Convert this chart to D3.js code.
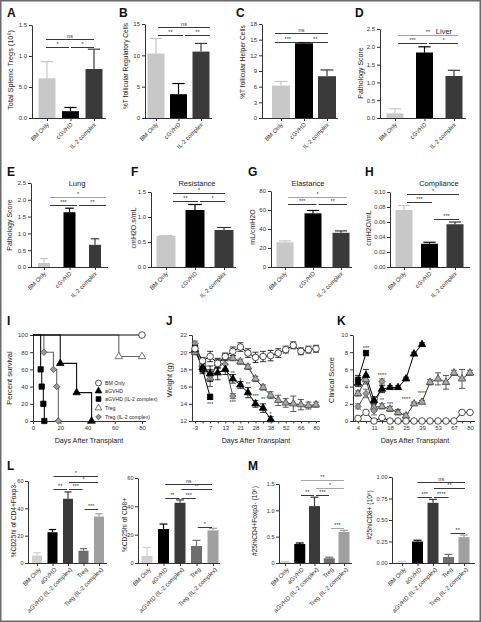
<!DOCTYPE html>
<html><head><meta charset="utf-8">
<script src="https://cdn.jsdelivr.net/npm/d3@7"></script>
<style>body{margin:0;background:#fff}svg{display:block}</style>
</head><body>
<script>
// ================= DATA =================
const cats3 = ["BM Only", "cGVHD", "IL-2 complex"];
const cats5 = ["BM Only", "aGVHD", "aGVHD (IL-2 complex)", "Treg", "Treg (IL-2 complex)"];

// Row 1-2 bar panels (mean, upper SEM)
const tregVals = [0.64, 0.11, 0.79],    tregErr = [0.27, 0.06, 0.32];
const tfrVals = [10.3, 3.8, 10.6],      tfrErr = [2.4, 1.7, 1.3];
const tfhVals = [6.2, 14.3, 8.0],       tfhErr = [0.8, 0.15, 1.2];
const liverVals = [0.13, 1.84, 1.18],   liverErr = [0.13, 0.16, 0.16];
const lungVals = [0.12, 1.63, 0.66],    lungErr = [0.13, 0.12, 0.18];
const resistVals = [0.62, 1.14, 0.74],  resistErr = [0.01, 0.11, 0.05];
const elastVals = [26, 56.5, 36],       elastErr = [1.5, 3, 2];
const complVals = [0.076, 0.031, 0.057], complErr = [0.006, 0.002, 0.003];

// Row 4 bar panels
const cd4PctVals = [5.5, 22.5, 47, 9, 34],         cd4PctErr = [2, 2, 5, 1.5, 2];
const cd8PctVals = [5, 24, 42.5, 12, 23],          cd8PctErr = [6, 3.5, 2, 4, 1.5];
const cd4NumVals = [0.02, 0.36, 1.08, 0.09, 0.59], cd4NumErr = [0.01, 0.02, 0.17, 0.02, 0.03];
const cd8NumVals = [0.005, 0.25, 0.70, 0.07, 0.30], cd8NumErr = [0.015, 0.015, 0.04, 0.03, 0.025];

// Tick values / labels
const ticksA = [0, 0.5, 1.0, 1.5],  tickLabA = ["0.0", "5.0", "1.0", "1.5"];
const ticksB = [0, 5, 10, 15],      tickLabB = ["0", "5", "10", "15"];
const ticksC = [0, 3, 6, 9, 12, 15, 18], tickLabC = ["0", "3", "6", "9", "12", "15", "18"];
const ticksPath = [0, 0.5, 1.0, 1.5, 2.0, 2.5], tickLabPath = ["0.0", "0.5", "1.0", "1.5", "2.0", "2.5"];
const ticksF = [0, 0.5, 1.0, 1.5],  tickLabF = ["0.0", "0.5", "1.0", "1.5"];
const ticksG = [0, 20, 40, 60, 80], tickLabG = ["0", "20", "40", "60", "80"];
const ticksH = [0, 0.02, 0.04, 0.06, 0.08, 0.10], tickLabH = ["0.00", "0.02", "0.04", "0.06", "0.08", "0.10"];
const ticksL = [0, 20, 40, 60],     tickLabL = ["0", "20", "40", "60"];
const ticksM1 = [0, 0.5, 1.0, 1.5], tickLabM1 = ["0", "0.5", "1.0", "1.5"];
const ticksM2 = [0, 0.25, 0.5, 0.75, 1.0], tickLabM2 = ["0.00", "0.25", "0.50", "0.75", "1.00"];

// Significance comparisons [from, to, label]
const sigA = [[0, 2, "ns"], [0, 1, "*"], [1, 2, "*"]];
const sigB = [[0, 2, "ns"], [0, 1, "**"], [1, 2, "**"]];
const sigC = [[0, 2, "ns"], [0, 1, "***"], [1, 2, "**"]];
const sigD = [[0, 2, "**"], [0, 1, "***"], [1, 2, "*"]];
const sigE = [[0, 2, "*"], [0, 1, "***"], [1, 2, "**"]];
const sigF = [[0, 2, "*"], [0, 1, "**"], [1, 2, "*"]];
const sigG = [[0, 2, "*"], [0, 1, "***"], [1, 2, "**"]];
const sigH = [[0, 2, "*"], [0, 1, "***"], [1, 2, "***"]];
const sigL1 = [[1, 4, "*"], [2, 4, "*"], [1, 2, "**"], [2, 3, "***"], [3, 4, "***"]];
const sigL2 = [[1, 4, "ns"], [2, 4, "**"], [1, 2, "**"], [2, 3, "***"], [3, 4, "*"]];
const sigM1 = [[1, 4, "**"], [2, 4, "*"], [1, 2, "**"], [2, 3, "***"], [3, 4, "***"]];
const sigM2 = [[1, 4, "ns"], [2, 4, "**"], [1, 2, "***"], [2, 3, "****"], [3, 4, "**"]];

// Panel I: survival (step points)
const survXTicks = [0, 20, 40, 60, 80];
const survYTicks = [0, 20, 40, 60, 80, 100];
const survDaysBM = [0, 80],                       survPctBM = [100, 100];
const survDaysAG = [0, 20, 32, 43],               survPctAG = [100, 67, 33, 0];
const survDaysAGIL = [0, 5.6, 6.4, 7.6, 8.3],     survPctAGIL = [100, 60, 40, 20, 0];
const survDaysTreg = [0, 63, 80],                 survPctTreg = [100, 75, 75];
const survDaysTregIL = [0, 8, 15, 17.4, 18.6],    survPctTregIL = [100, 80, 60, 40, 0];

// Panel J: weight (g), points at successive measurement days
const weightDayLabels = ["-3", "7", "13", "21", "28", "38", "52", "66", "80"];
const weightYTicks = [12, 14, 16, 18, 20, 22];
const wBM = [20.4, 19.0, 19.5, 18.7, 19.5, 20.1, 20.6, 19.9, 19.4, 19.5, 19.6, 19.9, 20.3, 20.8, 20.1, 20.3, 20.4];
const wBMErr = [0.3, 0.4, 0.6, 0.5, 0.4, 0.5, 0.5, 0.5, 0.6, 0.6, 0.6, 0.5, 0.4, 0.4, 0.4, 0.4, 0.4];
const wAG = [20.3, 18.2, 17.5, 17.6, 18.0, 16.9, 16.2, 15.3, 14.0, 13.5, 12.2];
const wAGErr = [0.3, 0.5, 0.9, 0.8, 0.6, 0.5, 0.4, 0.6, 0.4, 0.5, 0.3];
const wAGIL = [20.5, 18.0, 14.8];
const wAGILErr = [0.3, 0.5, 0.3];
const wTreg = [20.0, 18.6, 17.0, 18.7, 19.4, 19.3, 18.9, 18.3, 16.9, 15.9, 15.0, 14.4, 14.1, 14.0, 13.9, 13.8, 13.9];
const wTregErr = [0.3, 0.5, 1.0, 0.6, 0.4, 0.3, 0.3, 0.3, 0.3, 0.3, 0.4, 0.6, 0.5, 0.9, 0.6, 0.4, 0.3];
const wTregIL = [21.0, 18.8, 17.3, 18.7, 18.6, 14.9];
const wTregILErr = [0.3, 0.5, 0.6, 0.5, 0.5, 0.3];
const weightStars = [[2, 14.1, "***"], [5, 17.7, "**"], [5, 14.3, "***"], [6, 16.8, "*"], [7, 16.4, "**"], [8, 15.0, "***"], [9, 14.6, "**"], [10, 12.9, "*"]];

// Panel K: clinical score
const scoreDayLabels = ["4", "11", "18", "25", "39", "53", "67", "80"];
const scoreYTicks = [0, 2, 4, 6, 8, 10];
const csBM = [0.3, 1.0, 0, 0.4, 0, 0, 0, 0, 0, 0, 0, 0, 0, 1.0, 1.0];
const csBMErr = [0, 0, 0, 0, 0, 0, 0, 0, 0, 0, 0, 0, 0, 0, 0];
const csAG = [4.4, 5.3, 2.4, 3.7, 3.9, 3.9, 4.9, 7.8, 8.9];
const csAGErr = [0.4, 0.7, 0.4, 0.4, 0.2, 0.2, 0.2, 0.2, 0.2];
const csAGIL = [4.8, 7.9];
const csAGILErr = [0.5, 0.3];
const csTreg = [3.2, 4.8, 1.6, 1.7, 1.4, 1.0, 0.6, 2.0, 2.2, 4.5, 4.9, 4.5, 5.6, 4.9, 5.6];
const csTregErr = [0.3, 0.5, 0.4, 0.3, 0.3, 0.3, 0.3, 0.2, 0.2, 0.3, 0.7, 0.8, 0.3, 1.1, 0.3];
const csTregIL = [1.7, 3.2, 1.2, 4.6];
const csTregILErr = [0.3, 0.5, 0.5, 0.3];
const scoreStars = [[1, 8.6, "***"], [3, 5.4, "****"], [3, 2.5, "**"], [4, 2.1, "***"], [5, 1.3, "**"], [6, 2.7, "****"], [8, 3.4, "****"]];

// ================= DRAWING =================
const FONT = "'Liberation Sans', Arial, Helvetica, sans-serif";
const INK = "#222";
const svg = d3.select("body").append("svg").attr("width", 481).attr("height", 622).attr("font-family", FONT);
svg.append("rect").attr("width", 481).attr("height", 622).attr("fill", "#fff");
svg.append("rect").attr("x", 0.75).attr("y", 0.75).attr("width", 479.5).attr("height", 620.5)
  .attr("fill", "none").attr("stroke", "#6a6a6a").attr("stroke-width", 1.5);

const col3 = ["#c8c8c8", "#000000", "#3a3a3a"];
const col5 = ["#d0d0d0", "#000000", "#3a3a3a", "#6e6e6e", "#a0a0a0"];

function styleAxis(g, fs) {
  g.attr("font-size", fs).attr("font-family", FONT);
  g.selectAll("path.domain").attr("stroke", "#333").attr("stroke-width", 1);
  g.selectAll(".tick line").attr("stroke", "#333");
  g.selectAll(".tick text").attr("fill", "#333");
}

function ylab(g, x, y, text, fs) {
  g.append("text").attr("transform", `translate(${x},${y}) rotate(-90)`)
    .attr("text-anchor", "middle").attr("font-size", fs || 7).attr("fill", INK).text(text);
}

function barPanel(L, cats, vals, errs, colors, ticks, tickLabels, sigs) {
  const g = svg.append("g");
  const y = d3.scaleLinear().domain([0, L.max]).range([L.base, L.top]);
  const x = d3.scalePoint().domain(cats).range(L.bars);
  const sx = d3.scalePoint().domain(cats).range(L.sig);
  const rows = cats.map((c, i) => ({ c, v: vals[i], e: errs[i], col: colors[i] }));
  const eb = g.selectAll("g.eb").data(rows).join("g");
  eb.append("line").attr("x1", d => x(d.c)).attr("x2", d => x(d.c))
    .attr("y1", d => y(d.v)).attr("y2", d => y(d.v + d.e)).attr("stroke", d => d.col).attr("stroke-width", 1.2);
  eb.append("line").attr("x1", d => x(d.c) - L.bw * 0.36).attr("x2", d => x(d.c) + L.bw * 0.36)
    .attr("y1", d => y(d.v + d.e)).attr("y2", d => y(d.v + d.e)).attr("stroke", d => d.col).attr("stroke-width", 1.2);
  g.selectAll("rect.bar").data(rows).join("rect")
    .attr("x", d => x(d.c) - L.bw / 2).attr("width", L.bw)
    .attr("y", d => y(d.v)).attr("height", d => L.base - y(d.v)).attr("fill", d => d.col);
  const gy = g.append("g").attr("transform", `translate(${L.ax},0)`)
    .call(d3.axisLeft(y).tickValues(ticks).tickFormat((t, i) => tickLabels[i]).tickSize(3).tickSizeOuter(0).tickPadding(L.tp || 2));
  styleAxis(gy, L.tfs || 6);
  const gx = g.append("g").attr("transform", `translate(0,${L.base})`)
    .call(d3.axisBottom(x).tickSize(3).tickSizeOuter(0));
  gx.select(".domain").attr("d", `M${L.ax},0.5H${L.xEnd}`);
  styleAxis(gx, 6);
  const lab = L.lab || [2, 7];
  gx.selectAll(".tick text").attr("y", null).attr("dy", null).attr("text-anchor", "end")
    .attr("transform", `translate(${lab[0]},${lab[1]}) rotate(-45)`);
  sigs.forEach((s, k) => {
    const ly = L.sigY[k];
    const col = (L.gray || []).includes(k) ? "#9a9a9a" : "#222";
    const x1 = sx(cats[s[0]]) + 1, x2 = sx(cats[s[1]]) - 1;
    g.append("line").attr("x1", x1).attr("x2", x2).attr("y1", ly + 0.5).attr("y2", ly + 0.5)
      .attr("stroke", col).attr("stroke-width", 0.9);
    g.append("text").attr("x", (x1 + x2) / 2).attr("y", ly - 1).attr("text-anchor", "middle")
      .attr("font-size", 5.5).attr("fill", "#333").text(s[2]);
  });
  if (L.title) g.append("text").attr("x", L.title[1]).attr("y", L.title[2]).attr("text-anchor", "middle")
    .attr("font-size", 7.5).attr("fill", INK).text(L.title[0]);
  ylab(g, L.ylab[1], L.ylab[2], L.ylab[0], L.ylab[3]);
}

// ---- Row 1 ----
barPanel({ ax: 32, base: 118, top: 25, max: 1.5, bars: [47, 94], sig: [45, 95], bw: 17, xEnd: 106,
  sigY: [39, 47, 47], ylab: ["Total Splenic Tregs (10⁶)", 13, 70, 7.3] },
  cats3, tregVals, tregErr, col3, ticksA, tickLabA, sigA);
barPanel({ ax: 145, base: 118, top: 24, max: 15, bars: [156, 201], sig: [157, 211], bw: 17, xEnd: 212,
  sigY: [27, 35, 35], ylab: ["%T follicular Regulatory Cells", 128, 66, 6.6] },
  cats3, tfrVals, tfrErr, col3, ticksB, tickLabB, sigB);
barPanel({ ax: 262, base: 118, top: 24, max: 18, bars: [281, 327], sig: [274, 329], bw: 18, xEnd: 338,
  sigY: [33, 42, 42], ylab: ["%T follicular Helper Cells", 245, 62, 6.6] },
  cats3, tfhVals, tfhErr, col3, ticksC, tickLabC, sigC);
barPanel({ ax: 380, base: 118, top: 29, max: 2.5, bars: [395, 454], sig: [397, 459], bw: 17, xEnd: 466,
  sigY: [35, 43, 43], gray: [0], title: ["Liver", 444, 33.5], ylab: ["Pathology Score", 363, 73, 7] },
  cats3, liverVals, liverErr, col3, ticksPath, tickLabPath, sigD);

// ---- Row 2 ----
barPanel({ ax: 31, base: 267, top: 183, max: 2.5, bars: [44, 95], sig: [49, 107], bw: 12, xEnd: 108,
  sigY: [197, 205, 205], gray: [0], title: ["Lung", 77, 185.5], ylab: ["Pathology Score", 12, 225, 7] },
  cats3, lungVals, lungErr, col3, ticksPath, tickLabPath, sigE);
barPanel({ ax: 151, base: 267, top: 192, max: 1.5, bars: [166, 224], sig: [172, 226], bw: 19, xEnd: 236,
  sigY: [193, 201, 201], title: ["Resistance", 197, 185.5], ylab: ["cmH2O.s/mL", 136, 228, 7] },
  cats3, resistVals, resistErr, col3, ticksF, tickLabF, sigF);
barPanel({ ax: 271, base: 267, top: 191, max: 80, bars: [285, 341], sig: [287, 348], bw: 17, xEnd: 352,
  sigY: [197, 204, 204], gray: [0], title: ["Elastance", 308, 185.5], ylab: ["mL/cmH2O", 255, 227, 7] },
  cats3, elastVals, elastErr, col3, ticksG, tickLabG, sigG);
barPanel({ ax: 390, base: 267, top: 192, max: 0.10, bars: [404, 455], sig: [406, 460], bw: 17, xEnd: 470,
  sigY: [194, 202, 219], title: ["Compliance", 439, 185.5], ylab: ["cmH2O/mL", 371, 228, 7], tp: 1.5, tfs: 5.8 },
  cats3, complVals, complErr, col3, ticksH, tickLabH, sigH);

// ---- Row 4 ----
barPanel({ ax: 28, base: 563, top: 481, max: 60, bars: [37, 99], sig: [37, 99], bw: 10, xEnd: 107, lab: [4, 7],
  sigY: [476, 482, 489, 489, 509], ylab: ["%CD25hi of CD4+Foxp3-", 15.5, 520, 6.6], tp: 1.5, tfs: 5.6 },
  cats5, cd4PctVals, cd4PctErr, col5, ticksL, tickLabL, sigL1);
barPanel({ ax: 138, base: 563, top: 478, max: 60, bars: [147, 213], sig: [148, 213], bw: 11, xEnd: 220, lab: [4, 7],
  sigY: [484, 489, 498, 498, 527], ylab: ["%CD25hi of CD8+", 126.5, 525, 6.6], tp: 1.5, tfs: 5.6 },
  cats5, cd8PctVals, cd8PctErr, col5, ticksL, tickLabL, sigL2);
barPanel({ ax: 279, base: 563, top: 484, max: 1.5, bars: [285, 344], sig: [285, 345], bw: 11, xEnd: 352, lab: [4, 7],
  sigY: [480, 488, 495, 495, 528], gray: [0, 1, 4], ylab: ["#25hiCD4+Foxp3- (10⁶)", 257, 521, 6.6], tp: 1.5, tfs: 5.6 },
  cats5, cd4NumVals, cd4NumErr, col5, ticksM1, tickLabM1, sigM1);
barPanel({ ax: 392, base: 563, top: 477, max: 1.0, bars: [402, 464], sig: [400, 466], bw: 11, xEnd: 475, lab: [4, 7],
  sigY: [482, 488, 497, 497, 533], ylab: ["#25hiCD8+ (10⁶)", 372, 515, 6.6], tp: 1.5, tfs: 5.6 },
  cats5, cd8NumVals, cd8NumErr, col5, ticksM2, tickLabM2, sigM2);

// ---- Marker styles ----
const MK = {
  bm:     { sym: d3.symbolCircle,   size: 34, fill: "#fff",  stroke: "#222", rot: 0 },
  ag:     { sym: d3.symbolTriangle, size: 24, fill: "#000",  stroke: "#000", rot: 0 },
  agil:   { sym: d3.symbolSquare,   size: 28, fill: "#000",  stroke: "#000", rot: 0 },
  treg:   { sym: d3.symbolTriangle, size: 24, fill: "#fff",  stroke: "#555", rot: 0 },
  tregG:  { sym: d3.symbolTriangle, size: 24, fill: "#a8a8a8", stroke: "#444", rot: 0 },
  tregil: { sym: d3.symbolSquare,   size: 20, fill: "#999",  stroke: "#555", rot: 45 }
};
function marker(g, m, cx, cy, scale) {
  g.append("path").attr("transform", `translate(${cx},${cy}) rotate(${m.rot})`)
    .attr("d", d3.symbol(m.sym, m.size * (scale || 1))).attr("fill", m.fill)
    .attr("stroke", m.stroke).attr("stroke-width", 0.8);
}

// ---- Panel I: survival ----
(function () {
  const g = svg.append("g");
  const x = d3.scaleLinear().domain([0, 80]).range([33, 142]);
  const y = d3.scaleLinear().domain([0, 100]).range([421, 335]);
  const gy = g.append("g").attr("transform", "translate(33,0)")
    .call(d3.axisLeft(y).tickValues(survYTicks).tickSize(3).tickSizeOuter(0).tickPadding(2));
  styleAxis(gy, 6);
  const gx = g.append("g").attr("transform", "translate(0,421)")
    .call(d3.axisBottom(x).tickValues(survXTicks).tickSize(3).tickSizeOuter(0).tickPadding(2));
  gx.select(".domain").attr("d", "M33,0.5H146");
  styleAxis(gx, 6);
  const groups = [
    { d: survDaysTreg, p: survPctTreg, m: MK.treg, line: "#666" },
    { d: survDaysTregIL, p: survPctTregIL, m: MK.tregil, line: "#666" },
    { d: survDaysAG, p: survPctAG, m: MK.ag, line: "#111" },
    { d: survDaysAGIL, p: survPctAGIL, m: MK.agil, line: "#111" },
    { d: survDaysBM, p: survPctBM, m: MK.bm, line: "#111" }
  ];
  const step = d3.line().curve(d3.curveStepAfter).x(d => x(d[0])).y(d => y(d[1]));
  groups.forEach(s => {
    const pts = s.d.map((t, i) => [t, s.p[i]]);
    g.append("path").datum(pts).attr("d", step).attr("fill", "none").attr("stroke", s.line).attr("stroke-width", 1.1);
  });
  groups.forEach(s => s.d.forEach((t, i) => { if (i > 0) marker(g, s.m, x(t), y(s.p[i])); }));
  // legend
  const names = ["BM Only", "aGVHD", "aGVHD (IL-2 complex)", "Treg", "Treg (IL-2 complex)"];
  const ms = [MK.bm, MK.ag, MK.agil, MK.treg, MK.tregil];
  const ly = [383, 391, 399, 408, 417];
  names.forEach((n, i) => {
    marker(g, ms[i], 98.5, ly[i], 0.8);
    g.append("text").attr("x", 105).attr("y", ly[i]).attr("dy", "0.35em").attr("font-size", 5.2).attr("fill", INK).text(n);
  });
  ylab(g, 12, 378, "Percent survival", 7.5);
  g.append("text").attr("x", 89).attr("y", 443).attr("text-anchor", "middle").attr("font-size", 7.2).attr("fill", INK).text("Days After Transplant");
})();

// ---- Panels J, K ----
function seriesPanel(L, xLabels, yTicks, series, stars) {
  const g = svg.append("g");
  const x = d3.scaleLinear().domain([0, L.n - 1]).range(L.xr);
  const y = d3.scaleLinear().domain(L.yd).range([L.base, L.top]);
  const gy = g.append("g").attr("transform", `translate(${L.ax},0)`)
    .call(d3.axisLeft(y).tickValues(yTicks).tickSize(3).tickSizeOuter(0).tickPadding(2));
  styleAxis(gy, 6);
  const gx = g.append("g").attr("transform", `translate(0,${L.base})`)
    .call(d3.axisBottom(x).tickValues(d3.range(L.n)).tickFormat(i => i % 2 === 0 ? xLabels[i / 2] : "")
      .tickSize(2.5).tickSizeOuter(0).tickPadding(2.5));
  gx.select(".domain").attr("d", `M${L.ax},0.5H${L.xEnd}`);
  styleAxis(gx, 6);
  const line = d3.line().x((d, i) => x(i)).y(d => y(d));
  series.forEach(s => g.append("path").datum(s.vals).attr("d", line).attr("fill", "none")
    .attr("stroke", s.line).attr("stroke-width", 1));
  series.forEach(s => s.vals.forEach((v, i) => {
    const e = s.errs[i];
    if (e > 0) {
      g.append("line").attr("x1", x(i)).attr("x2", x(i)).attr("y1", y(v - e)).attr("y2", y(v + e)).attr("stroke", s.line).attr("stroke-width", 0.8);
      [v - e, v + e].forEach(w => g.append("line").attr("x1", x(i) - 3).attr("x2", x(i) + 3).attr("y1", y(w)).attr("y2", y(w)).attr("stroke", s.line).attr("stroke-width", 0.8));
    }
  }));
  series.forEach(s => s.vals.forEach((v, i) => marker(g, s.m, x(i), y(v))));
  stars.forEach(st => g.append("text").attr("x", x(st[0])).attr("y", y(st[1])).attr("dy", "0.5em")
    .attr("text-anchor", "middle").attr("font-size", 5.5).attr("fill", "#333").text(st[2]));
  ylab(g, L.ylab[1], L.ylab[2], L.ylab[0], 7.5);
  g.append("text").attr("x", L.xt).attr("y", 443).attr("text-anchor", "middle").attr("font-size", 7.2).attr("fill", INK).text("Days After Transplant");
}

seriesPanel({ n: 17, xr: [195, 316], yd: [12, 22], base: 421, top: 335, ax: 192, xEnd: 320, xt: 256, ylab: ["Weight (g)", 172, 380] },
  weightDayLabels, weightYTicks, [
    { vals: wTreg, errs: wTregErr, m: MK.tregG, line: "#333" },
    { vals: wTregIL, errs: wTregILErr, m: MK.tregil, line: "#555" },
    { vals: wAG, errs: wAGErr, m: MK.ag, line: "#000" },
    { vals: wAGIL, errs: wAGILErr, m: MK.agil, line: "#000" },
    { vals: wBM, errs: wBMErr, m: MK.bm, line: "#000" }
  ], weightStars);

seriesPanel({ n: 15, xr: [358, 470], yd: [0, 10], base: 421, top: 335, ax: 353, xEnd: 475, xt: 415, ylab: ["Clinical Score", 334, 380] },
  scoreDayLabels, scoreYTicks, [
    { vals: csTreg, errs: csTregErr, m: MK.tregG, line: "#333" },
    { vals: csTregIL, errs: csTregILErr, m: MK.tregil, line: "#555" },
    { vals: csAG, errs: csAGErr, m: MK.ag, line: "#000" },
    { vals: csAGIL, errs: csAGILErr, m: MK.agil, line: "#000" },
    { vals: csBM, errs: csBMErr, m: MK.bm, line: "#000" }
  ], scoreStars);

// ---- Panel letters ----
const letters = [["A", 7, 16.5], ["B", 119, 16.5], ["C", 236, 16.5], ["D", 355, 16.5],
  ["E", 7, 176], ["F", 131, 176], ["G", 248, 176], ["H", 365, 176],
  ["I", 7, 325], ["J", 166, 325], ["K", 337, 325], ["L", 7, 470], ["M", 248, 470]];
svg.selectAll("text.letter").data(letters).join("text").attr("class", "letter")
  .attr("x", d => d[1]).attr("y", d => d[2]).attr("font-size", 12).attr("font-weight", "bold")
  .attr("fill", "#111").text(d => d[0]);
</script>
</body></html>
